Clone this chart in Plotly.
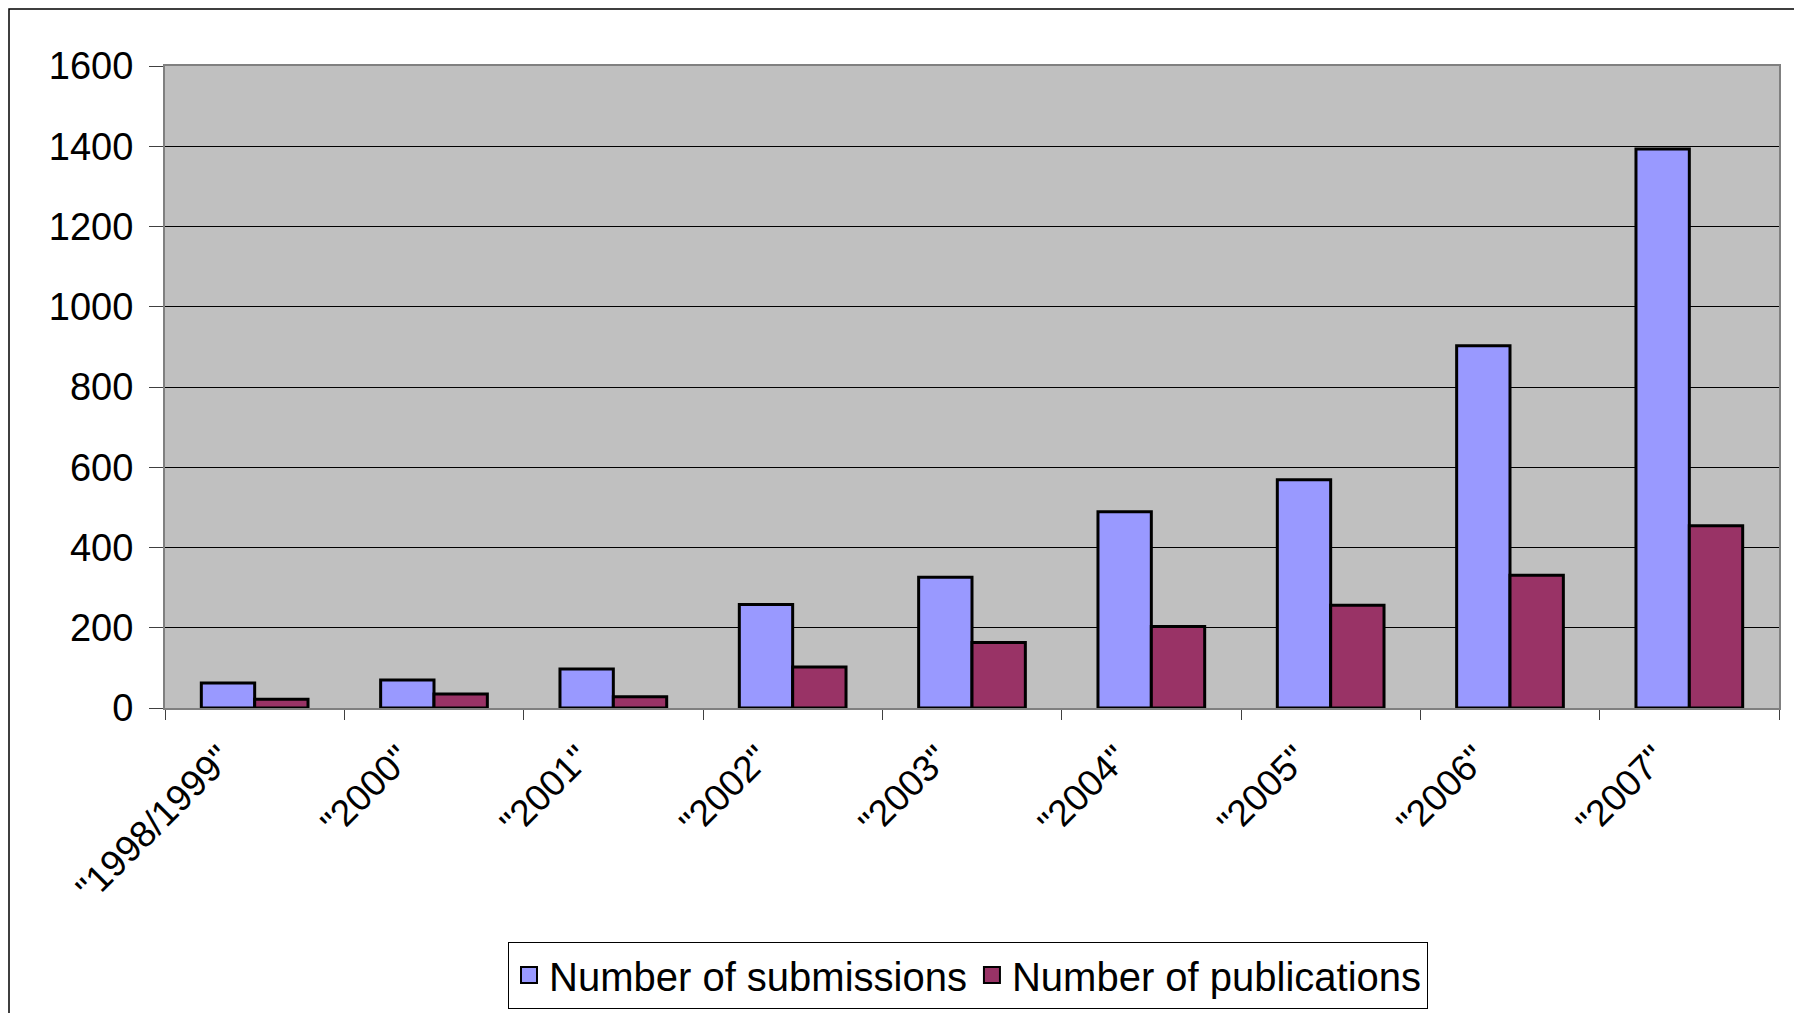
import plotly.graph_objects as go

categories = ['"1998/1999"', '"2000"', '"2001"', '"2002"', '"2003"', '"2004"', '"2005"', '"2006"', '"2007"']
submissions = [62, 70, 97, 258, 326, 489, 569, 903, 1393]
publications = [22, 35, 28, 102, 163, 203, 256, 331, 454]
y_ticks = [0, 200, 400, 600, 800, 1000, 1200, 1400, 1600]

OFF = 8  # page body margin
W, H = 1802 - OFF, 1040
L, R, T, B = 165 - OFF, 1779 - OFF, 66 - OFF, 708 - OFF
pw, ph = R - L, B - T

def px(xs):
    return (xs - OFF - L) / pw

def py(ys):
    return (B - (ys - OFF)) / ph

FONT = "Liberation Sans, Arial, sans-serif"
BLUE, RED = "#9999FF", "#993366"

fig = go.Figure()
fig.add_trace(go.Bar(x=categories, y=submissions, name="Number of submissions", showlegend=False,
                     marker=dict(color=BLUE, line=dict(color="#000000", width=3))))
fig.add_trace(go.Bar(x=categories, y=publications, name="Number of publications", showlegend=False,
                     marker=dict(color=RED, line=dict(color="#000000", width=3))))
# legend-only entries with larger square swatches
for nm, col in [("Number of submissions", BLUE), ("Number of publications", RED)]:
    fig.add_trace(go.Scatter(x=[None], y=[None], mode="markers", name=nm,
                             marker=dict(symbol="square", size=18, color=col,
                                         line=dict(color="#000000", width=2))))

fig.update_layout(
    width=W, height=H,
    margin=dict(l=L, r=W - R, t=T, b=H - B, pad=0),
    paper_bgcolor="white",
    plot_bgcolor="#C0C0C0",
    barmode="group",
    bargap=0.405,
    bargroupgap=0,
    font=dict(family=FONT, size=37, color="black"),
    showlegend=True,
    legend=dict(orientation="h", x=px(968), xanchor="center", y=py(975), yanchor="middle",
                bordercolor="black", borderwidth=1, bgcolor="white",
                font=dict(family=FONT, size=40), traceorder="normal"),
    xaxis=dict(type="category", showgrid=False, ticks="outside", ticklen=10, tickwidth=1,
               tickcolor="#404040", tickangle=-45, showline=True, linecolor="#808080",
               linewidth=2, mirror=True, tickson="boundaries",
               ticklabelshift=-34, ticklabelstandoff=12,
               tickfont=dict(family=FONT, size=37)),
    yaxis=dict(range=[0, 1600], tickvals=y_ticks, showgrid=True, gridcolor="#000000",
               gridwidth=1, ticks="outside", ticklen=14, tickwidth=1, tickcolor="#404040",
               showline=True, linecolor="#808080", linewidth=2, mirror=True,
               zeroline=False, ticklabelstandoff=8, tickfont=dict(family=FONT, size=38)),
)

# outer chart border (extends past right/bottom of image as in reference)
fig.add_shape(type="rect", xref="paper", yref="paper",
              x0=px(9), y0=py(9), x1=px(1830), y1=py(1060),
              line=dict(color="#000000", width=1.5), layer="below")

fig.write_html("out.html")
